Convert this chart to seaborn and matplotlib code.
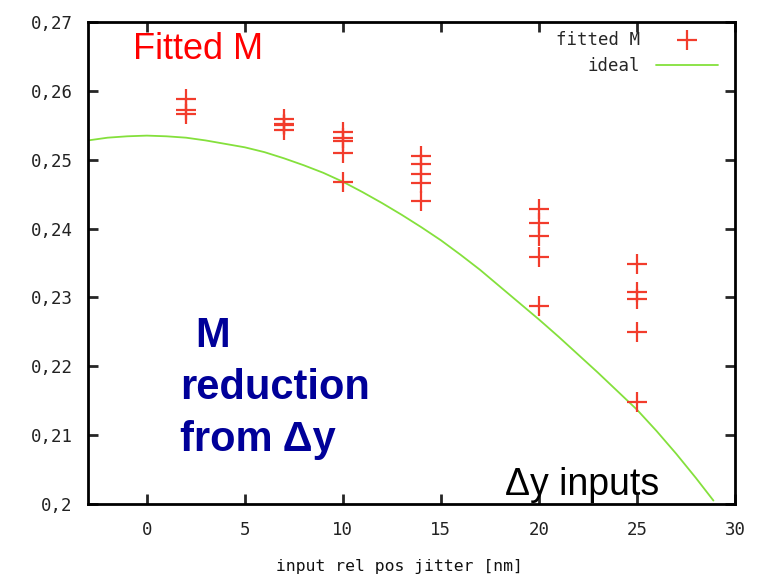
import matplotlib
matplotlib.use("Agg")
import matplotlib.pyplot as plt
import seaborn as sns
import numpy as np

# ---- data ----
fit_x = [2, 2, 2,
         7, 7, 7, 7,
         10, 10, 10, 10, 10,
         14, 14, 14, 14, 14,
         20, 20, 20, 20, 20,
         25, 25, 25, 25, 25]
fit_y = [0.2588, 0.2572, 0.2567,
         0.2559, 0.2552, 0.2550, 0.2543,
         0.2540, 0.2531, 0.2527, 0.2510, 0.2468,
         0.2506, 0.2494, 0.2479, 0.2466, 0.2440,
         0.2429, 0.2408, 0.2389, 0.2358, 0.2287,
         0.2348, 0.2308, 0.2298, 0.2250, 0.2148]

ideal_x = [-3, -2, -1, 0, 1, 2, 3, 4, 5, 6, 7, 8, 9, 10, 11, 12, 13, 14,
           15, 16, 17, 18, 19, 20, 21, 22, 23, 24, 25, 26, 27, 28, 28.9]
ideal_y = [0.2528, 0.2532, 0.2534, 0.2535, 0.2534, 0.2532, 0.2528, 0.2523,
           0.2518, 0.2511, 0.2502, 0.2492, 0.2481, 0.2468, 0.2453, 0.2437,
           0.2420, 0.2402, 0.2383, 0.2362, 0.2340, 0.2316, 0.2292, 0.2268,
           0.2243, 0.2217, 0.2191, 0.2164, 0.2137, 0.2106, 0.2073, 0.2038,
           0.2005]

x_ticks = [0, 5, 10, 15, 20, 25, 30]
y_ticks = [0.20, 0.21, 0.22, 0.23, 0.24, 0.25, 0.26, 0.27]
y_tick_labels = ["0,2", "0,21", "0,22", "0,23", "0,24", "0,25", "0,26", "0,27"]

x_label = "input rel pos jitter [nm]"
series_fit = "fitted M"
series_ideal = "ideal"

# ---- styling ----
sns.set_style("ticks")
plt.rcParams["font.family"] = ["DejaVu Sans Mono", "DejaVu Sans"]

RED = "#f23c2c"
GREEN = "#84e03c"
NAVY = "#000099"

fig = plt.figure(figsize=(7.70, 5.83), dpi=100)
ax = fig.add_axes([88 / 770, 1 - 504 / 583, (735 - 88) / 770, (504 - 22) / 583])

sns.lineplot(x=ideal_x, y=ideal_y, ax=ax, color=GREEN, linewidth=1.3,
             label=series_ideal, sort=True, estimator=None)
sns.scatterplot(x=fit_x, y=fit_y, ax=ax, marker="+", s=210, color=RED,
                linewidth=1.6, label=series_fit, zorder=3)

ax.set_xlim(-3, 30)
ax.set_ylim(0.20, 0.27)
ax.set_xticks(x_ticks)
ax.set_yticks(y_ticks)
ax.set_yticklabels(y_tick_labels)
ax.set_xlabel(x_label, fontsize=11.8, color="#111111")
ax.xaxis.set_label_coords((399 - 88) / (735 - 88), -55 / 482)
ax.set_ylabel("")

for sp in ax.spines.values():
    sp.set_visible(True)
    sp.set_linewidth(2.0)
    sp.set_color("black")
ax.tick_params(direction="in", length=7, width=2, top=True, right=True,
               labelsize=12.5, labelcolor="#222222")
ax.tick_params(axis="y", pad=11)
ax.tick_params(axis="x", pad=12)

# legend (gnuplot style: text then sample, no frame)
handles, labels = ax.get_legend_handles_labels()
order = [labels.index(series_fit), labels.index(series_ideal)]
leg = ax.legend([handles[i] for i in order], [labels[i] for i in order],
                loc="upper right", bbox_to_anchor=(718 / 770, 1 - 31 / 583),
                bbox_transform=fig.transFigure, frameon=False,
                markerfirst=False, handlelength=3.6, handletextpad=0.9,
                labelspacing=0.45, fontsize=12.5, borderaxespad=0,
                borderpad=0)

# annotations
fig.text(133 / 770, 1 - 59 / 583, "Fitted M", color="#ff0000", fontsize=26,
         family="Liberation Sans", ha="left", va="baseline")
fig.text(213 / 770, 1 - 347 / 583, "M", color=NAVY, fontsize=30,
         family="Liberation Sans", weight="bold", ha="center", va="baseline")
fig.text(180 / 770, 1 - 399 / 583, "reduction", color=NAVY, fontsize=30,
         family="Liberation Sans", weight="bold", ha="left", va="baseline")
fig.text(180 / 770, 1 - 451 / 583, "from Δy", color=NAVY, fontsize=30,
         family="Liberation Sans", weight="bold", ha="left", va="baseline")
fig.text(505 / 770, 1 - 495 / 583, "Δy inputs", color="black", fontsize=27,
         family="Liberation Sans", ha="left", va="baseline")

fig.savefig("out.png", dpi=100)
